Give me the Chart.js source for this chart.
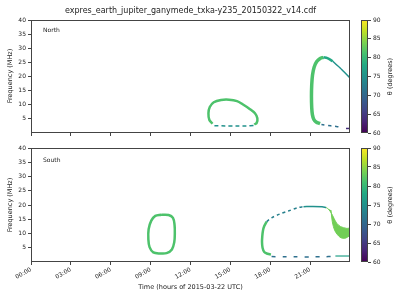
<!DOCTYPE html>
<html><head><meta charset="utf-8">
<script src="https://cdn.jsdelivr.net/npm/chart.js@4.4.1/dist/chart.umd.min.js"></script>
<style>
html,body{margin:0;padding:0;background:#fff;}
#wrap{position:relative;width:400px;height:300px;overflow:hidden;background:#fff;}
canvas{position:absolute;}
</style></head><body>
<div id="wrap">
<canvas id="north" width="358" height="140" style="left:0;top:0"></canvas>
<canvas id="south" width="358" height="160" style="left:0;top:140px"></canvas>
<canvas id="cbN" width="45" height="140" style="left:355px;top:0"></canvas>
<canvas id="cbS" width="45" height="160" style="left:355px;top:140px"></canvas>
</div>
<script>
// ---------- text / ticks ----------
const chartTitle = 'expres_earth_jupiter_ganymede_txka-y235_20150322_v14.cdf';
const panelNames = ['North', 'South'];
const xTitle = 'Time (hours of 2015-03-22 UTC)';
const yTitle = 'Frequency (MHz)';
const cbTitle = '\u03b8 (degrees)';
const hourTicks = [0, 3, 6, 9, 12, 15, 18, 21];
const hourLabels = ['00:00', '03:00', '06:00', '09:00', '12:00', '15:00', '18:00', '21:00'];
const hourRange = [0, 24];
const freqTicks = [5, 10, 15, 20, 25, 30, 35, 40];
const freqRange = [0, 40];
const thetaTicks = [60, 65, 70, 75, 80, 85, 90];
const thetaRange = [60, 90];

// ---------- data: [hour, MHz] traces, each with its beaming angle theta (deg) ----------
const northLoopA = [[13.65,3.3],[13.42,4.6],[13.35,7.0],[13.45,9.2],[13.75,10.9],[14.3,11.7],[14.9,11.8],[15.5,11.3],[15.95,10.1],[16.4,8.7],[16.85,7.0],[17.03,5.2],[16.98,3.6],[16.8,3.0]];
const northLoopAFloor = [[13.8,2.6],[14.6,2.5],[15.4,2.5],[16.2,2.5],[16.8,2.7]];
const northLoopBArm = [[21.75,3.3],[21.45,3.9],[21.28,4.8],[21.17,6.5],[21.12,9],[21.1,13],[21.12,17],[21.18,20.5],[21.3,23.3],[21.5,25.3],[21.75,26.4],[22.0,26.8]];
const northLoopBCrest = [[22.0,26.8],[22.3,26.5],[22.7,25.4]];
const northLoopBSlope = [[22.7,25.4],[23.2,23.3],[23.6,21.4],[24.0,19.5]];
const northLoopBFloor = [[21.85,3.0],[22.3,2.7],[22.8,2.4],[23.3,2.1]];
const northLoopBTail = [[23.7,1.6],[23.95,1.6]];

const southLoopC = [[9.8,16.6],[10.35,16.5],[10.68,15.5],[10.8,13],[10.82,10],[10.78,7],[10.6,4.4],[10.2,3.1],[9.7,3.0],[9.2,3.4],[8.92,5.2],[8.83,8],[8.85,11.5],[9.05,14.5],[9.35,16.2],[9.8,16.6]];
const southLoopDArm = [[18.05,2.6],[17.8,2.9],[17.55,3.5],[17.42,5],[17.38,7],[17.4,9],[17.45,11],[17.55,12.6],[17.73,14.2]];
const southLoopDArc = [[17.73,14.2],[18.1,15.5],[18.7,16.8],[19.36,17.9],[20.1,19.1],[20.5,19.4]];
const southLoopDCrest = [[20.5,19.4],[21.2,19.5],[21.9,19.4],[22.2,19.1]];
const southLoopDBand = [[22.2,19.1],[22.37,18.6],[22.6,17.1],[22.8,15.3],[23.0,13.6],[23.3,12.4],[23.75,11.8],[24,11.8],[24,9.5],[23.6,8.3],[23.25,8.7],[22.87,10.9],[22.67,14.1],[22.57,18.2]];
const southLoopDFloor = [[18.1,1.9],[19.0,1.85],[20.0,1.8],[21.0,1.8],[22.0,1.85],[22.75,1.95]];
const southLoopDTail = [[22.9,2.1],[24.0,2.1]];

const thetaGreen = 81.5, thetaBright = 83.5, thetaTeal = 75, thetaBlue = 71, thetaPurple = 64;

// ---------- style ----------
const VIRIDIS = ['#440154','#482475','#414487','#355f8d','#2a788e','#21918c','#22a884','#44bf70','#7ad151','#bddf26','#fde725'];
function hex2rgb(h){return [1,3,5].map(i=>parseInt(h.substr(i,2),16));}
function viridis(theta){
  let t = (theta - thetaRange[0]) / (thetaRange[1] - thetaRange[0]);
  t = Math.max(0, Math.min(1, t)) * (VIRIDIS.length - 1);
  const i = Math.min(Math.floor(t), VIRIDIS.length - 2), f = t - i;
  const a = hex2rgb(VIRIDIS[i]), b = hex2rgb(VIRIDIS[i+1]);
  const c = a.map((v,k)=>Math.round(v + (b[k]-v)*f));
  return 'rgb(' + c.join(',') + ')';
}
const FONT = 'DejaVu Sans, Liberation Sans, sans-serif';
const AX = '#444';
const TXT = '#222';

function trace(points, theta, extra){
  return Object.assign({
    data: points.map(([x,y]) => ({x, y})),
    borderColor: viridis(theta),
    backgroundColor: viridis(theta),
    showLine: true, pointRadius: 0, borderWidth: 3, tension: 0.35,
    fill: false, borderCapStyle: 'butt'
  }, extra || {});
}

const decor = {
  id: 'decor',
  afterDraw(chart, args, opts){
    const {ctx, chartArea: a} = chart;
    ctx.save();
    ctx.strokeStyle = AX; ctx.lineWidth = 1;
    ctx.strokeRect(Math.round(a.left) + 0.5, Math.round(a.top) + 0.5, Math.round(a.right - a.left) - 1, Math.round(a.bottom - a.top) - 1);
    (opts.texts || []).forEach(t => {
      ctx.save();
      ctx.font = t.font; ctx.fillStyle = TXT;
      ctx.textAlign = t.align || 'center'; ctx.textBaseline = 'middle';
      ctx.translate(t.x, t.y);
      if (t.rot) ctx.rotate(t.rot);
      ctx.fillText(t.text, 0, 0);
      ctx.restore();
    });
    ctx.restore();
  }
};

function xScale(showLabels, h){
  return {
    type: 'linear', min: hourRange[0], max: hourRange[1],
    afterBuildTicks: s => { s.ticks = hourTicks.map(v => ({value: v})); },
    afterFit: s => { s.height = h; },
    ticks: {
      autoSkip: false, maxRotation: 30, minRotation: 30, padding: 1,
      font: {family: FONT, size: 6}, color: TXT,
      callback: (v, i) => showLabels ? hourLabels[i] : ''
    },
    grid: {drawOnChartArea: false, tickLength: 3, color: AX, lineWidth: 1},
    border: {display: false}
  };
}
function yScale(){
  return {
    type: 'linear', min: freqRange[0], max: freqRange[1],
    afterBuildTicks: s => { s.ticks = freqTicks.map(v => ({value: v})); },
    afterFit: s => { s.width = 31; },
    ticks: {font: {family: FONT, size: 6}, color: TXT, padding: 2, callback: (v, i) => String(freqTicks[i])},
    grid: {drawOnChartArea: false, tickLength: 3, color: AX, lineWidth: 1},
    border: {display: false}
  };
}
function baseOptions(pad, xs, texts){
  return {
    responsive: false, animation: false, events: [],
    layout: {padding: pad},
    plugins: {legend: {display: false}, tooltip: {enabled: false}, title: {display: false}, decor: {texts}},
    scales: {x: xs, y: yScale()}
  };
}

new Chart(document.getElementById('north'), {
  type: 'scatter',
  data: {datasets: [
    trace(northLoopAFloor, thetaTeal, {borderWidth: 1.5, borderDash: [4, 3], tension: 0.2}),
    trace(northLoopA, thetaGreen, {borderWidth: 2.5}),
    trace(northLoopBFloor, thetaBlue, {borderWidth: 1.5, borderDash: [3, 4], tension: 0.2}),
    trace(northLoopBTail, thetaPurple, {borderWidth: 1.5}),
    trace(northLoopBSlope, thetaTeal, {borderWidth: 1.5, tension: 0.2}),
    trace(northLoopBCrest, 78, {borderWidth: 2.5}),
    trace(northLoopBArm, thetaGreen, {borderWidth: 3.5})
  ]},
  options: baseOptions({left: 0, right: 8, top: 20, bottom: 0}, xScale(false, 7), [
    {text: chartTitle, x: 190.5, y: 11, font: '8px ' + FONT},
    {text: panelNames[0], x: 43, y: 30, align: 'left', font: '6px ' + FONT},
    {text: yTitle, x: 10, y: 76, rot: -Math.PI/2, font: '6.5px ' + FONT}
  ]),
  plugins: [decor]
});

new Chart(document.getElementById('south'), {
  type: 'scatter',
  data: {datasets: [
    trace(southLoopC, thetaGreen, {borderWidth: 2.5}),
    trace(southLoopDFloor, thetaBlue, {borderWidth: 1.5, borderDash: [4, 7], tension: 0.2}),
    trace(southLoopDTail, 77, {borderWidth: 1.2, tension: 0}),
    trace(southLoopDArc, 73, {borderWidth: 1.5, borderDash: [3, 3], tension: 0.3}),
    trace(southLoopDCrest, thetaTeal, {borderWidth: 1.5}),
    trace(southLoopDBand, thetaBright, {borderWidth: 1, fill: 'shape', tension: 0.3}),
    trace(southLoopDArm, thetaGreen, {borderWidth: 2.5})
  ]},
  options: baseOptions({left: 0, right: 8, top: 8, bottom: 0}, xScale(true, 38), [
    {text: panelNames[1], x: 43, y: 20, align: 'left', font: '6px ' + FONT},
    {text: yTitle, x: 10, y: 65, rot: -Math.PI/2, font: '6.5px ' + FONT},
    {text: xTitle, x: 190.5, y: 147.5, font: '6.5px ' + FONT}
  ]),
  plugins: [decor]
});

function colorbar(id, padTop, padBottom){
  new Chart(document.getElementById(id), {
    type: 'bar',
    data: {labels: [cbTitle], datasets: [{
      data: [thetaRange],
      borderWidth: 0, barPercentage: 1, categoryPercentage: 1,
      backgroundColor: c => {
        const a = c.chart.chartArea; if (!a) return VIRIDIS[5];
        const g = c.chart.ctx.createLinearGradient(0, a.bottom, 0, a.top);
        VIRIDIS.forEach((col, i) => g.addColorStop(i / (VIRIDIS.length - 1), col));
        return g;
      }
    }]},
    options: {
      responsive: false, animation: false, events: [],
      layout: {padding: {left: 6, right: 0, top: padTop, bottom: padBottom}},
      plugins: {legend: {display: false}, tooltip: {enabled: false}, decor: {texts: [
        {text: cbTitle, x: 35, y: padTop + (document.getElementById(id).height - padTop - padBottom) / 2, rot: -Math.PI/2, font: '6.5px ' + FONT}
      ]}},
      scales: {
        x: {display: false},
        y: {
          position: 'right', min: thetaRange[0], max: thetaRange[1],
          afterBuildTicks: s => { s.ticks = thetaTicks.map(v => ({value: v})); },
          afterFit: s => { s.width = 32; },
          ticks: {font: {family: FONT, size: 6}, color: TXT, padding: 2, callback: (v, i) => String(thetaTicks[i])},
          grid: {drawOnChartArea: false, tickLength: 3, color: AX},
          border: {display: false}
        }
      }
    },
    plugins: [decor]
  });
}
colorbar('cbN', 20, 7);
colorbar('cbS', 8, 38);
</script>
</body></html>
